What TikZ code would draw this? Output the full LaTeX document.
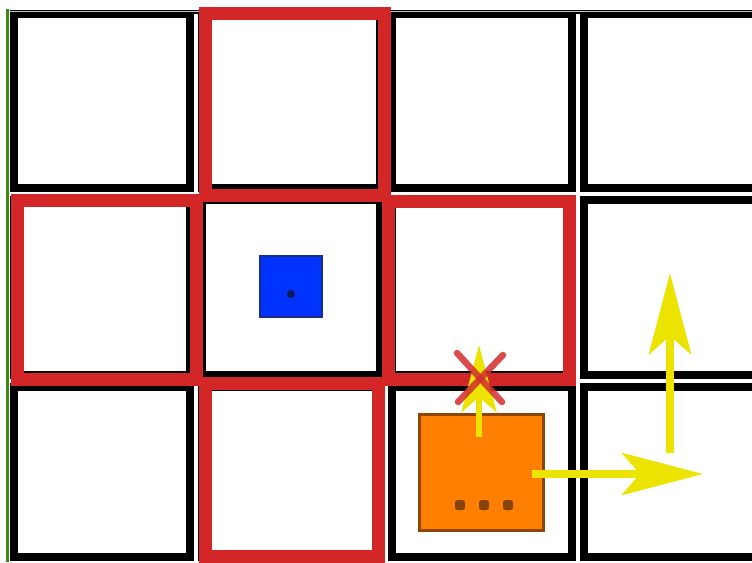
\documentclass[tikz,border=0pt]{standalone}
\usetikzlibrary{arrows.meta}
\definecolor{hred}{RGB}{211,38,38}
\definecolor{xred}{RGB}{210,45,45}
\definecolor{ayellow}{RGB}{236,228,0}
\definecolor{ofill}{RGB}{255,128,0}
\definecolor{oedge}{RGB}{140,70,0}
\definecolor{odotc}{RGB}{135,68,10}
\definecolor{bfill}{RGB}{0,51,255}
\definecolor{bedge}{RGB}{25,45,140}
\definecolor{bdotc}{RGB}{15,25,90}
\definecolor{gline}{RGB}{60,140,20}
\tikzset{
  cellline/.style={draw=black, line width=7.5pt},
  redcell/.style={draw=hred, line width=13pt},
  agent/.style={rectangle, fill=bfill, draw=bedge, line width=1.5pt, minimum width=62pt, minimum height=61pt, inner sep=0pt},
  agentdot/.style={circle, fill=bdotc, minimum size=8pt, inner sep=0pt},
  box/.style={rectangle, fill=ofill, draw=oedge, line width=3pt, minimum width=124pt, minimum height=116pt, inner sep=0pt},
  boxdot/.style={rectangle, rounded corners=2.5pt, fill=odotc, minimum size=10pt, inner sep=0pt},
  yarrowthin/.style={draw=ayellow, line width=6.5pt, -{Stealth[length=67pt, width=35pt, inset=15pt]}},
  yarrow/.style={draw=ayellow, line width=8.5pt, -{Stealth[length=81pt, width=42pt, inset=18pt]}},
  xmark/.style={draw=xred, line width=6.5pt, line cap=round, opacity=0.85}
}
\begin{document}
\begin{tikzpicture}[x=1pt,y=-1pt]
\useasboundingbox (0,0) rectangle (752,562);
\fill[white] (0,0) rectangle (752,562);
\begin{scope}
\clip (0,0) rectangle (752,562);
% grid cells
\foreach \xa/\xb in {8/196,196/386,386/578,578/768}
  \foreach \ya/\yb in {8/194,194/381,381/563}
    \draw[cellline] (\xa+6,\ya+6) rectangle (\xb-6,\yb-6);
% top row border is a little heavier in the reference
\draw[black, line width=4pt] (10,12) -- (752,12);
% thin light line along the top
\draw[gray!45, line width=1pt] (10,11) -- (752,11);
% highlighted neighbour cells
\draw[redcell] (205,13) rectangle (384,195);
\draw[redcell] (17,200) rectangle (196,379);
\draw[redcell] (388,201) rectangle (569,379);
\draw[redcell] (205,383) rectangle (378,556);
% left green edge
\draw[gline, line width=2.5pt] (7.5,9) -- (7.5,562);
\end{scope}
% blue agent
\node[agent] (agent) at (291,286.5) {};
\node[agentdot] (adot) at (291,294) {};
% orange box
\node[box] (box) at (481.5,472.5) {};
\node[boxdot] (d1) at (460,505) {};
\node[boxdot] (d2) at (484,505) {};
\node[boxdot] (d3) at (508,505) {};
% arrows
\coordinate (u1s) at (479,437);
\coordinate (u1e) at (479,345);
\coordinate (r1s) at (532,474);
\coordinate (r1e) at (703,474);
\coordinate (u2s) at (670,453);
\coordinate (u2e) at (670,273);
\draw[yarrowthin] (u1s) -- (u1e);
\draw[yarrow] (r1s) -- (r1e);
\draw[yarrow] (u2s) -- (u2e);
% red cross
\coordinate (xa1) at (457,353);
\coordinate (xa2) at (502,402);
\coordinate (xb1) at (503,355);
\coordinate (xb2) at (458,402);
\draw[xmark] (xa1) -- (xa2);
\draw[xmark] (xb1) -- (xb2);
\end{tikzpicture}
\end{document}
